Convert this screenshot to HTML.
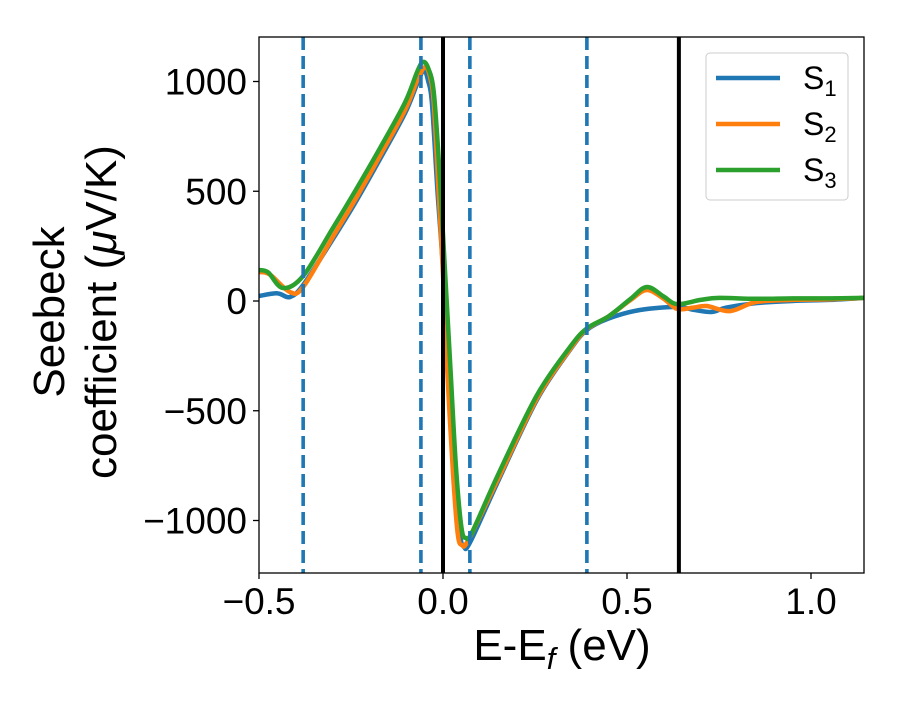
<!DOCTYPE html>
<html><head><meta charset="utf-8"><style>
body{margin:0;background:#fff}
svg{font-family:"Liberation Sans","DejaVu Sans",sans-serif}
</style></head><body>
<svg id="chart" width="900" height="700" viewBox="0 0 900 700">
<rect width="900" height="700" fill="#fff"/>
<defs><clipPath id="pa"><rect x="259" y="37" width="605" height="536"/></clipPath></defs>
<g id="marks" clip-path="url(#pa)"></g>
<rect x="259" y="37" width="605" height="536" fill="none" stroke="#000" stroke-width="1.3"/>
<g id="ticks"></g>
<text x="562" y="660" font-size="44" text-anchor="middle">E-E<tspan font-style="italic" font-size="31" dy="9">f</tspan><tspan dy="-9"> (eV)</tspan></text>
<g transform="translate(64,312) rotate(-90)">
<text x="0" y="0" font-size="44" text-anchor="middle">Seebeck</text>
<text x="0" y="52" font-size="44" text-anchor="middle">coefficient  (<tspan font-style="italic">μ</tspan>V/K)</text>
</g>
<g>
<rect x="706" y="53" width="142" height="147" rx="4" fill="#fff" stroke="#ccc" stroke-width="1"/>
<g id="legend-items"></g>
</g>
</svg>
<script>
const xs1 = [-0.5,-0.45,-0.416,-0.38,-0.3,-0.239,-0.17,-0.103,-0.07,-0.052,-0.04,-0.03,-0.015,0.0,0.015,0.03,0.045,0.057,0.075,0.15,0.255,0.345,0.391,0.45,0.535,0.636,0.68,0.73,0.77,0.85,0.95,1.05,1.144];
const s1 = [23,35,18,73,280,446,650,856,990,1052,1000,900,500,150,-300,-750,-1050,-1121,-1095,-820,-451,-223,-132,-80,-41,-27,-40,-50,-30,-10,0,5,14];
const xs2 = [-0.5,-0.47,-0.416,-0.38,-0.3,-0.239,-0.17,-0.103,-0.07,-0.049,-0.035,-0.025,-0.012,0.0,0.012,0.027,0.04,0.052,0.07,0.15,0.255,0.345,0.391,0.45,0.51,0.554,0.6,0.636,0.68,0.717,0.78,0.85,0.95,1.05,1.144];
const s2 = [132,120,41,64,290,460,665,870,1005,1066,1020,900,500,120,-330,-780,-1060,-1112,-1085,-810,-445,-220,-128,-70,5,50,10,-36,-30,-23,-46,-5,5,8,14];
const xs3 = [-0.5,-0.475,-0.435,-0.38,-0.3,-0.239,-0.17,-0.103,-0.07,-0.054,-0.04,-0.025,-0.01,0.005,0.02,0.035,0.05,0.0625,0.08,0.15,0.255,0.345,0.391,0.45,0.51,0.554,0.6,0.636,0.7,0.75,0.85,0.95,1.05,1.144];
const s3 = [141,130,59,114,330,500,700,905,1045,1089,1060,950,600,150,-300,-750,-1030,-1080,-1050,-790,-430,-210,-125,-70,10,64,20,-14,5,14,10,12,12,14];
const dashedLines = [-0.38,-0.06,0.073,0.391];
const solidLines = [0.0,0.641];
const xTicks = [-0.5,0.0,0.5,1.0];
const xTickLabels = ["\u22120.5","0.0","0.5","1.0"];
const yTicks = [-1000,-500,0,500,1000];
const yTickLabels = ["\u22121000","\u2212500","0","500","1000"];
const seriesNames = ["S1","S2","S3"];

const NS="http://www.w3.org/2000/svg";
const X = v => 443 + (v)*368;
const Y = v => 301 - v*0.2195;
function mk(tag, attrs, parent){const e=document.createElementNS(NS,tag);for(const k in attrs)e.setAttribute(k,attrs[k]);parent.appendChild(e);return e;}
const marks=document.getElementById('marks');
const ticks=document.getElementById('ticks');
function pathFor(xs,ys){
  const p=xs.map((x,i)=>[X(x),Y(ys[i])]);
  let d=`M${p[0][0]},${p[0][1]}`;
  for(let i=0;i<p.length-1;i++){
    const p0=p[Math.max(0,i-1)],p1=p[i],p2=p[i+1],p3=p[Math.min(p.length-1,i+2)];
    const c1=[p1[0]+(p2[0]-p0[0])/6,p1[1]+(p2[1]-p0[1])/6];
    const c2=[p2[0]-(p3[0]-p1[0])/6,p2[1]-(p3[1]-p1[1])/6];
    d+=` C${c1[0]},${c1[1]} ${c2[0]},${c2[1]} ${p2[0]},${p2[1]}`;
  }
  return d;
}
const cols=["#1f77b4","#ff7f0e","#2ca02c"];
const data=[[xs1,s1],[xs2,s2],[xs3,s3]];
data.forEach((s,i)=>{
  const e=mk('path',{d:pathFor(s[0],s[1]),fill:'none',stroke:cols[i],'stroke-width':4.5,'stroke-linejoin':'round'},marks);
  
  
});
dashedLines.forEach(v=>{
  const e=mk('line',{x1:X(v),x2:X(v),y1:37,y2:573,stroke:'#1f77b4','stroke-width':3.6,'stroke-dasharray':'13,6'},marks);
  
  
});
solidLines.forEach(v=>{
  const e=mk('line',{x1:X(v),x2:X(v),y1:37,y2:573,stroke:'#000','stroke-width':4},marks);
  
  
});
xTicks.forEach((v,i)=>{
  mk('line',{x1:X(v),x2:X(v),y1:573,y2:579,stroke:'#000','stroke-width':1.3},ticks);
  const t=mk('text',{x:X(v),y:614,'font-size':37,'text-anchor':'middle'},ticks);
  t.textContent=xTickLabels[i];
  
  
});
yTicks.forEach((v,i)=>{
  mk('line',{x1:253,x2:259,y1:Y(v),y2:Y(v),stroke:'#000','stroke-width':1.3},ticks);
  const t=mk('text',{x:247,y:Y(v)+13,'font-size':37,'text-anchor':'end'},ticks);
  t.textContent=yTickLabels[i];
  
  
});
const lg=document.getElementById('legend-items');
seriesNames.forEach((n,i)=>{
  const y=78+i*46;
  mk('line',{x1:716,x2:780,y1:y,y2:y,stroke:cols[i],'stroke-width':4.5},lg);
  const t=mk('text',{x:803,y:y+11,'font-size':32},lg);
  t.innerHTML='S<tspan font-size="22" dy="7">'+n.slice(1)+'</tspan>';
  
  
});
</script>
</body></html>
